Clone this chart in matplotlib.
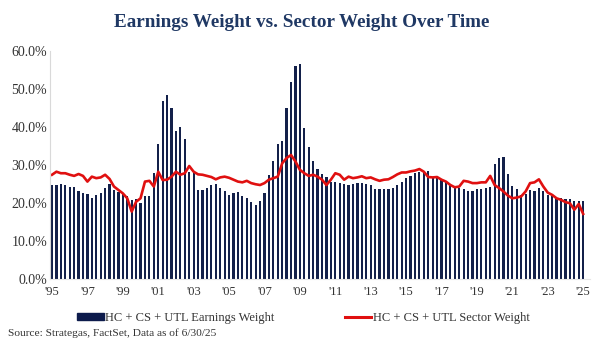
import numpy as np
import matplotlib.pyplot as plt
from matplotlib.patches import Patch
from matplotlib.lines import Line2D

# quarterly readings, 1995 Q1 .. 2025 Q1 (percent)
earnings_weight = [
    24.7, 24.7, 24.9, 24.6,  24.1, 24.3, 23.2, 22.5,  22.4, 21.2, 22.1, 22.6,
    24.0, 25.0, 23.5, 22.8,  22.3, 21.7, 20.8, 21.0,  19.9, 21.7, 21.7, 27.8,
    35.4, 46.7, 48.4, 44.9,  38.8, 40.0, 36.8, 28.2,  27.8, 23.4, 23.4, 24.0,
    24.7, 25.0, 24.0, 23.2,  22.1, 22.7, 22.9, 21.8,  21.4, 20.1, 19.5, 20.4,
    22.7, 27.4, 31.1, 35.4,  36.3, 44.9, 51.7, 55.9,  56.5, 39.8, 34.6, 31.1,
    28.9, 27.5, 26.9, 25.6,  25.4, 25.2, 25.0, 24.6,  25.0, 25.2, 25.1, 25.0,
    24.6, 23.6, 23.6, 23.6,  23.6, 23.8, 24.7, 25.4,  26.5, 27.1, 27.8, 28.2,
    28.0, 28.3, 26.7, 27.0,  26.3, 25.5, 25.0, 24.2,  23.9, 23.6, 23.0, 23.2,
    23.7, 23.7, 23.9, 24.3,  30.3, 31.8, 32.0, 27.5,  24.5, 23.7, 22.1, 22.4,
    23.4, 23.0, 23.9, 23.0,  22.1, 21.7, 21.4, 21.2,  21.0, 21.1, 20.6, 20.6,
    20.6,
]
sector_weight = [
    27.4, 28.2, 27.8, 27.8,  27.4, 27.1, 27.6, 27.1,  25.6, 26.9, 26.5, 26.7,
    27.4, 26.3, 24.3, 23.4,  22.5, 21.2, 17.7, 20.3,  21.2, 25.6, 25.8, 24.3,
    28.2, 26.0, 26.1, 26.9,  28.2, 27.4, 27.8, 29.7,  28.2, 27.5, 27.4, 27.1,
    26.8, 26.2, 26.7, 26.9,  26.6, 26.1, 25.6, 25.4,  25.8, 25.2, 24.9, 24.7,
    25.2, 26.1, 26.5, 26.9,  30.4, 31.8, 32.6, 30.9,  28.7, 27.8, 27.1, 27.4,
    26.9, 26.1, 24.7, 26.1,  27.8, 27.4, 26.1, 26.9,  26.5, 26.7, 27.0, 26.5,
    26.7, 26.2, 25.8, 26.1,  26.2, 26.8, 27.5, 28.0,  28.0, 28.3, 28.5, 28.9,
    28.2, 26.8, 26.7, 26.8,  26.1, 25.6, 24.7, 24.1,  24.3, 25.8, 25.6, 25.2,
    25.2, 25.4, 25.4, 27.1,  24.7, 23.9, 23.0, 21.9,  21.2, 21.4, 21.7, 23.0,
    25.2, 25.4, 26.2, 24.3,  22.7, 22.1, 21.2, 20.8,  20.2, 19.9, 18.2, 19.7,
    17.1,
]
year_labels = ["'95", "'97", "'99", "'01", "'03", "'05", "'07", "'09", "'11",
               "'13", "'15", "'17", "'19", "'21", "'23", "'25"]

navy = '#13204a'
red = '#e01010'
txt = '#333333'
serif = 'Liberation Serif'

x = np.arange(len(earnings_weight))

fig = plt.figure(figsize=(6, 3.46), dpi=100)
ax = fig.add_axes([0.083, 0.194, 0.9, 0.659])

ax.bar(x, earnings_weight, width=0.5, color=navy)
ax.plot(x, sector_weight, color=red, lw=1.9)

ax.set_xlim(-0.5, 121.5)
ax.set_ylim(0, 60)
ax.set_yticks(range(0, 61, 10))
ax.set_yticklabels([f'{v:.1f}%' for v in range(0, 61, 10)])
ax.set_xticks(np.arange(0, 121, 8))
ax.set_xticklabels(year_labels)
ax.tick_params(length=0, labelsize=9, labelcolor=txt, pad=5)
for lab in ax.get_xticklabels() + ax.get_yticklabels():
    lab.set_family(serif)
ax.tick_params(axis='y', labelsize=10, pad=2)

for s in ['top', 'right']:
    ax.spines[s].set_visible(False)
ax.spines['left'].set_color('#d9d9d9')
ax.spines['bottom'].set_color('#e6e6e6')

fig.text(0.503, 0.935, 'Earnings Weight vs. Sector Weight Over Time',
         ha='center', va='center', fontsize=13.8, fontweight='bold',
         family=serif, color='#1f3864')

handles = [Patch(color='#0d1b4c'), Line2D([0], [0], color=red, lw=2.2)]
names = ['HC + CS + UTL Earnings Weight', 'HC + CS + UTL Sector Weight']
fig.legend(handles, names, loc='center', bbox_to_anchor=(0.506, 1 - 318 / 346),
           ncol=2, frameon=False, handlelength=2.1, handleheight=0.5,
           handletextpad=0.15, columnspacing=5.6,
           prop={'family': serif, 'size': 9}, labelcolor=txt)

fig.text(0.013, 1 - 333 / 346, 'Source: Strategas, FactSet, Data as of 6/30/25',
         ha='left', va='center', fontsize=8.2, family=serif, color=txt)

fig.savefig('out.png', dpi=100)
